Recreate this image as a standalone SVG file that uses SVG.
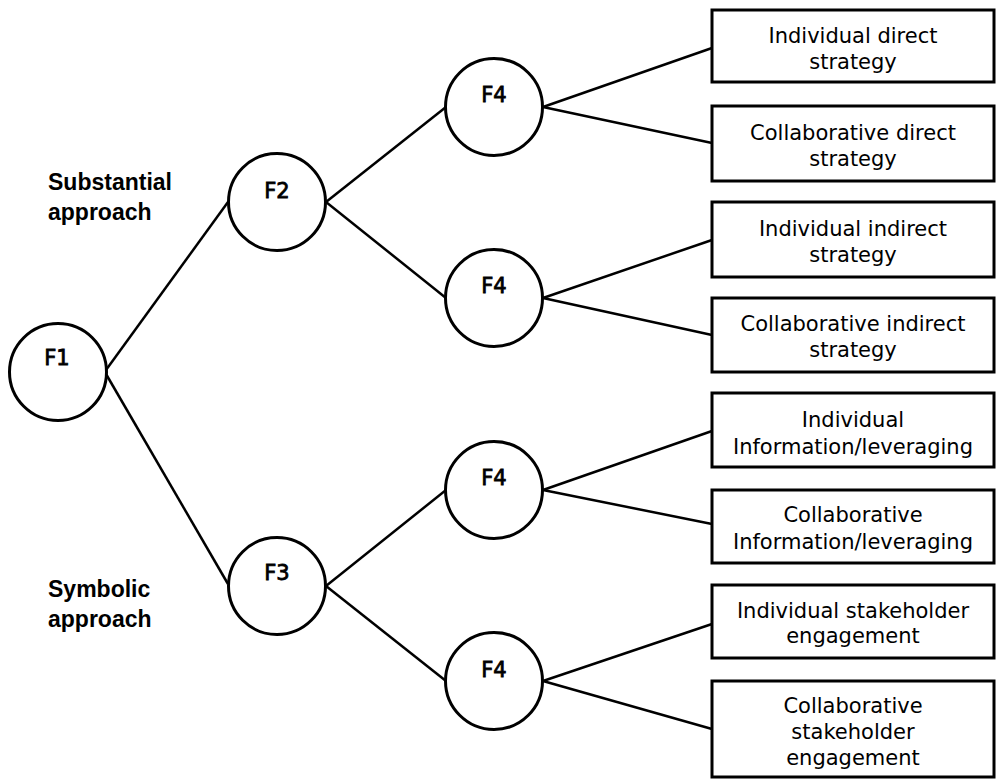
<svg xmlns="http://www.w3.org/2000/svg" width="997" height="779" viewBox="0 0 997 779">
<style>
.n{fill:#fff;stroke:#000;stroke-width:3}
.b{fill:#fff;stroke:#000;stroke-width:3}
.c{stroke:#000;stroke-width:2.5;fill:none}
.f{font-family:"DejaVu Sans",Verdana,sans-serif;font-size:21px;text-anchor:middle;stroke:#000;stroke-width:0.8}
.t{font-family:"DejaVu Sans",Verdana,sans-serif;font-size:21px;text-anchor:middle}
.h{font-family:"Liberation Sans",Arial,sans-serif;font-size:23px;font-weight:bold}
</style>
<rect width="997" height="779" fill="#fff"/>
<g id="connectors">
<line class="c" x1="106" y1="370" x2="228" y2="202"/>
<line class="c" x1="106" y1="374" x2="228" y2="584"/>
<line class="c" x1="326" y1="202" x2="446" y2="107"/>
<line class="c" x1="326" y1="202" x2="446" y2="298"/>
<line class="c" x1="326" y1="586" x2="446" y2="490"/>
<line class="c" x1="326" y1="586" x2="446" y2="681"/>
<line class="c" x1="543" y1="107" x2="712" y2="48"/>
<line class="c" x1="543" y1="107" x2="712" y2="143"/>
<line class="c" x1="543" y1="298" x2="712" y2="240"/>
<line class="c" x1="543" y1="298" x2="712" y2="335"/>
<line class="c" x1="543" y1="490" x2="712" y2="431"/>
<line class="c" x1="543" y1="490" x2="712" y2="524"/>
<line class="c" x1="543" y1="681" x2="712" y2="624"/>
<line class="c" x1="543" y1="681" x2="712" y2="729"/>
</g>
<g id="F1"><circle class="n" cx="58" cy="372" r="48.5"/><text class="f" x="57" y="365">F1</text></g>
<g id="F2"><circle class="n" cx="277" cy="202" r="48.5"/><text class="f" x="277" y="198">F2</text></g>
<g id="F3"><circle class="n" cx="277" cy="586" r="48.5"/><text class="f" x="277" y="580">F3</text></g>
<g id="F4a"><circle class="n" cx="494" cy="107" r="48.5"/><text class="f" x="494" y="102">F4</text></g>
<g id="F4b"><circle class="n" cx="494" cy="298" r="48.5"/><text class="f" x="494" y="293">F4</text></g>
<g id="F4c"><circle class="n" cx="494" cy="490" r="48.5"/><text class="f" x="494" y="485">F4</text></g>
<g id="F4d"><circle class="n" cx="494" cy="681" r="48.5"/><text class="f" x="494" y="677">F4</text></g>
<g id="lbl-sub"><text class="h" x="48" y="190">Substantial</text><text class="h" x="48" y="220">approach</text></g>
<g id="lbl-sym"><text class="h" x="48" y="597">Symbolic</text><text class="h" x="48" y="627">approach</text></g>
<g id="b1"><rect class="b" x="712" y="10" width="282" height="72"/><text class="t" x="853" y="43">Individual direct</text><text class="t" x="853" y="69">strategy</text></g>
<g id="b2"><rect class="b" x="712" y="106" width="282" height="75"/><text class="t" x="853" y="140">Collaborative direct</text><text class="t" x="853" y="166">strategy</text></g>
<g id="b3"><rect class="b" x="712" y="202" width="282" height="75"/><text class="t" x="853" y="236">Individual indirect</text><text class="t" x="853" y="262">strategy</text></g>
<g id="b4"><rect class="b" x="712" y="298" width="282" height="74"/><text class="t" x="853" y="331">Collaborative indirect</text><text class="t" x="853" y="357">strategy</text></g>
<g id="b5"><rect class="b" x="712" y="393" width="282" height="74"/><text class="t" x="853" y="427">Individual</text><text class="t" x="853" y="454">Information/leveraging</text></g>
<g id="b6"><rect class="b" x="712" y="490" width="282" height="73"/><text class="t" x="853" y="522">Collaborative</text><text class="t" x="853" y="549">Information/leveraging</text></g>
<g id="b7"><rect class="b" x="712" y="585" width="282" height="73"/><text class="t" x="853" y="618">Individual stakeholder</text><text class="t" x="853" y="643">engagement</text></g>
<g id="b8"><rect class="b" x="712" y="681" width="282" height="96"/><text class="t" x="853" y="713">Collaborative</text><text class="t" x="853" y="739">stakeholder</text><text class="t" x="853" y="765">engagement</text></g>
</svg>
